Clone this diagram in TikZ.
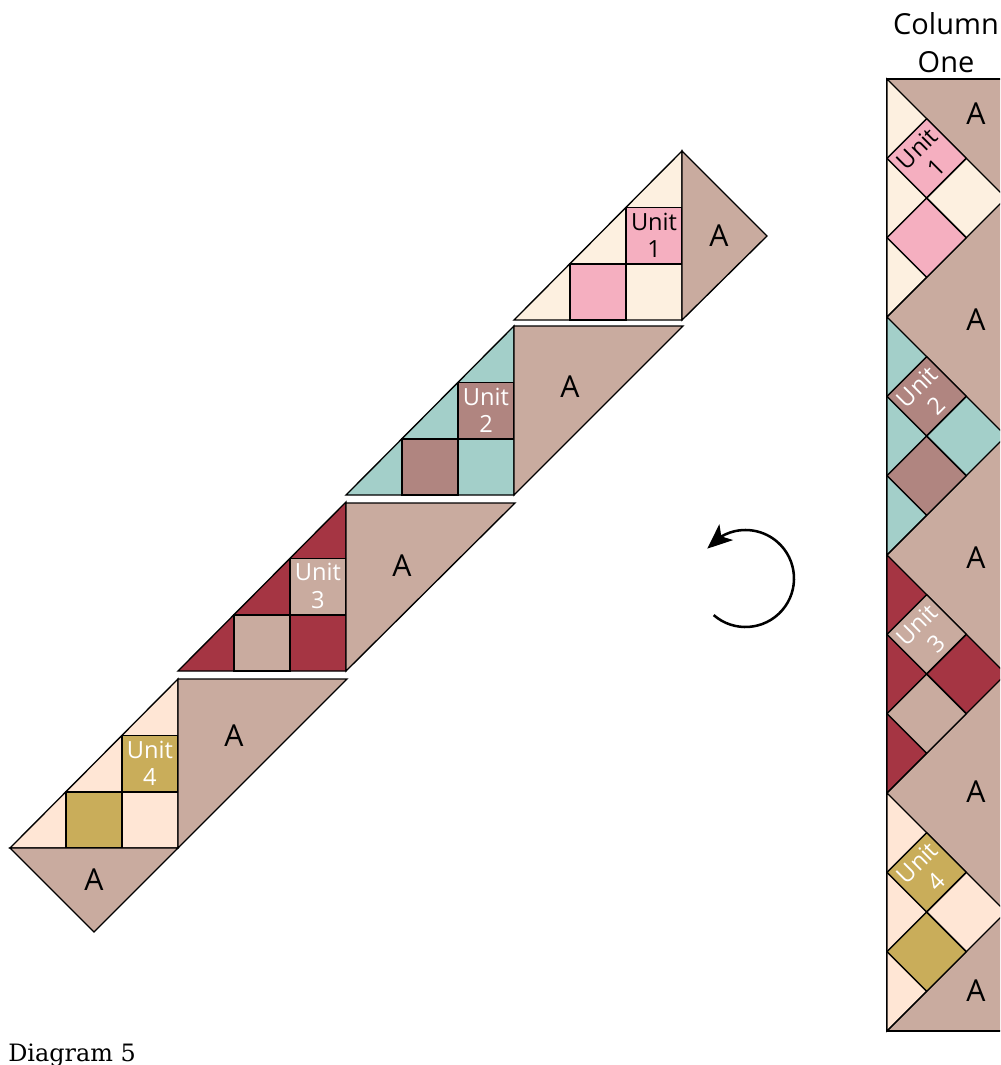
\documentclass[tikz,border=0pt]{standalone}
\usepackage{fontspec}
\setsansfont{Open Sans}
\newfontfamily\captionfont{DejaVu Serif}
\usetikzlibrary{arrows.meta,bending}
\definecolor{cream}{HTML}{FDF0E0}
\definecolor{peach}{HTML}{FFE6D5}
\definecolor{pinkunit}{HTML}{F5AFC0}
\definecolor{tanA}{HTML}{C9AB9F}
\definecolor{teal}{HTML}{A3CFC9}
\definecolor{mauve}{HTML}{B08580}
\definecolor{wine}{HTML}{A53543}
\definecolor{gold}{HTML}{C9AD5A}
\tikzset{
  patch/.style={draw=black,line width=0.95pt,line join=miter},
  lettera/.style={font=\sffamily\fontsize{21.5}{25}\selectfont},
  unitlabel/.style={font=\sffamily\fontsize{16.8}{19.4}\selectfont,align=center,inner sep=0pt}
}
\begin{document}
\begin{tikzpicture}[x=0.025cm,y=-0.025cm]
\useasboundingbox (0,0) rectangle (1000,1065);
\clip (0,0) rectangle (1000,1065);
% Stack, left
\foreach \ox/\oy/\lite/\sq/\tc/\n in {682/320/cream/pinkunit/black/1,514/495/teal/mauve/white/2,346/671/wine/tanA/white/3,178/848/peach/gold/white/4}{
\begin{scope}[shift={(\ox,\oy)}]
\filldraw[patch,fill=\lite] (-168,0) -- (0,0) -- (0,-169) -- cycle;
\filldraw[patch,fill=\sq] (-56,-112.5) rectangle (0,-56);
\filldraw[patch,fill=\sq] (-112,-56) rectangle (-56,0);
\draw[patch] (-56,-56) -- (-56,0);
\node[unitlabel,text=\tc] (unit\n) at (-28,-85) {Unit\\\n};
\end{scope}}
% A pieces, left
\filldraw[patch,fill=tanA] (682,151) -- (767,236) -- (682,320) -- cycle;
\filldraw[patch,fill=tanA] (514,326) -- (683,326) -- (514,495) -- cycle;
\filldraw[patch,fill=tanA] (346,503) -- (515,503) -- (346,671) -- cycle;
\filldraw[patch,fill=tanA] (178,679) -- (347,679) -- (178,848) -- cycle;
\filldraw[patch,fill=tanA] (10,848) -- (178,848) -- (94,932) -- cycle;
\node[lettera] (a1) at (719,236) {A};
\node[lettera] (a2) at (570,387) {A};
\node[lettera] (a3) at (402,566) {A};
\node[lettera] (a4) at (234,736) {A};
\node[lettera] (a5) at (94,880) {A};
% Drehpfeil
\draw[line width=1.8pt,-{Stealth[length=0.625cm,width=0.52cm,inset=0.16cm,flex]}] (745.5,578.5) ++(131:48.5) arc (131:-142:48.5);
% Column, right
\filldraw[patch,fill=tanA] (887,79) rectangle (1020,1031);
\foreach \ty/\lite/\sq/\tc/\n in {79/cream/pinkunit/black/1,317/teal/mauve/white/2,555/wine/tanA/white/3,793/peach/gold/white/4}{
\begin{scope}[shift={(887,\ty)}]
\filldraw[patch,fill=\lite] (0,0) -- (119,119) -- (0,238) -- cycle;
\filldraw[patch,fill=\sq] (39.67,39.67) -- (79.33,79.33) -- (39.67,119) -- (0,79.33) -- cycle;
\filldraw[patch,fill=\sq] (39.67,119) -- (79.33,158.67) -- (39.67,198.33) -- (0,158.67) -- cycle;
\draw[patch] (79.33,79.33) -- (39.67,119) (39.67,119) -- (79.33,158.67);
\draw[patch] (39.67,198.33) -- (0,238);
\node[unitlabel,text=\tc,rotate=45] (col\n) at (39.67,79.33) {Unit\\\n};
\end{scope}}
\node[lettera] (c1) at (976,114) {A};
\node[lettera] (c2) at (976,320) {A};
\node[lettera] (c3) at (976,558) {A};
\node[lettera] (c4) at (976,792) {A};
\node[lettera] (c5) at (976,991) {A};
% Titel
\node[font=\sffamily\fontsize{20.6}{27}\selectfont,align=center,inner sep=0pt] (coltitle) at (946,43) {Column\\One};
\node[anchor=base west,inner sep=0pt,font=\captionfont\fontsize{17}{20}\selectfont] (caption) at (8,1061) {Diagram 5};
\end{tikzpicture}
\end{document}
